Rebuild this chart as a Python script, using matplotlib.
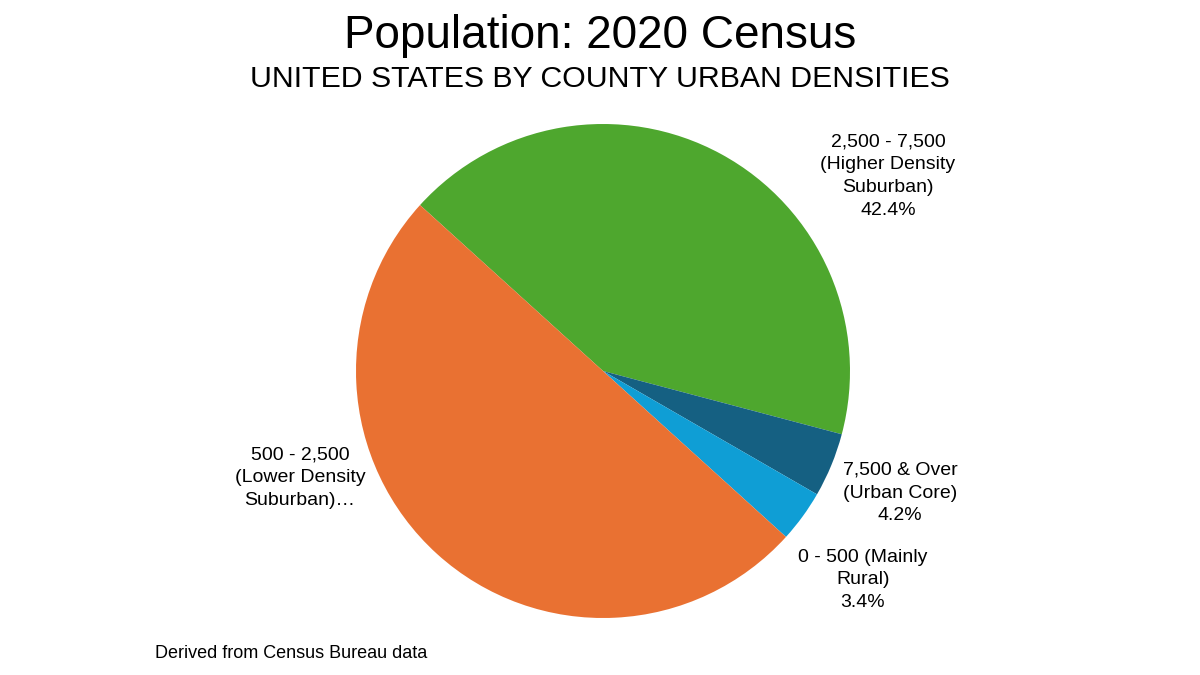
import matplotlib
matplotlib.use("Agg")
import matplotlib.pyplot as plt

plt.rcParams['font.family'] = ['Liberation Sans', 'DejaVu Sans']

categories = ["2,500 - 7,500\n(Higher Density\nSuburban)",
              "7,500 & Over\n(Urban Core)",
              "0 - 500 (Mainly\nRural)",
              "500 - 2,500\n(Lower Density\nSuburban)"]
values = [42.4, 4.2, 3.4, 50.0]
pct_labels = ["42.4%", "4.2%", "3.4%", ""]
colors = ["#4EA72E", "#156082", "#0F9ED5", "#E97132"]
ellipsis = [False, False, False, True]

fig = plt.figure(figsize=(12, 6.75), dpi=100)
W, H = 1200, 675
cx, cy, r = 603, 371, 247
ax = fig.add_axes([(cx - r) / W, (H - cy - r) / H, 2 * r / W, 2 * r / H])
ax.pie(values, colors=colors, startangle=137.8, counterclock=False,
       radius=1.0, wedgeprops=dict(linewidth=0))
ax.set_xlim(-1, 1)
ax.set_ylim(-1, 1)
ax.set_aspect('equal')
ax.axis('off')

# label positions (pixel centres)
label_pos = [(888, 176), (900, 493), (863, 580), (300, 478)]
for cat, pct, ell, (px, py) in zip(categories, pct_labels, ellipsis, label_pos):
    txt = cat + ("…" if ell else "") + ("\n" + pct if pct else "")
    fig.text(px / W, 1 - py / H, txt, ha='center', va='center',
             fontsize=14, linespacing=1.45, color='black')

fig.text(0.5, 1 - 48 / H, "Population: 2020 Census", ha='center', va='baseline',
         fontsize=33, color='black')
fig.text(0.5, 1 - 87 / H, "UNITED STATES BY COUNTY URBAN DENSITIES", ha='center',
         va='baseline', fontsize=21.8, color='black')
fig.text(155 / W, 1 - 658 / H, "Derived from Census Bureau data", ha='left',
         va='baseline', fontsize=13, color='black')

fig.savefig("out.png", dpi=100, facecolor='white')
